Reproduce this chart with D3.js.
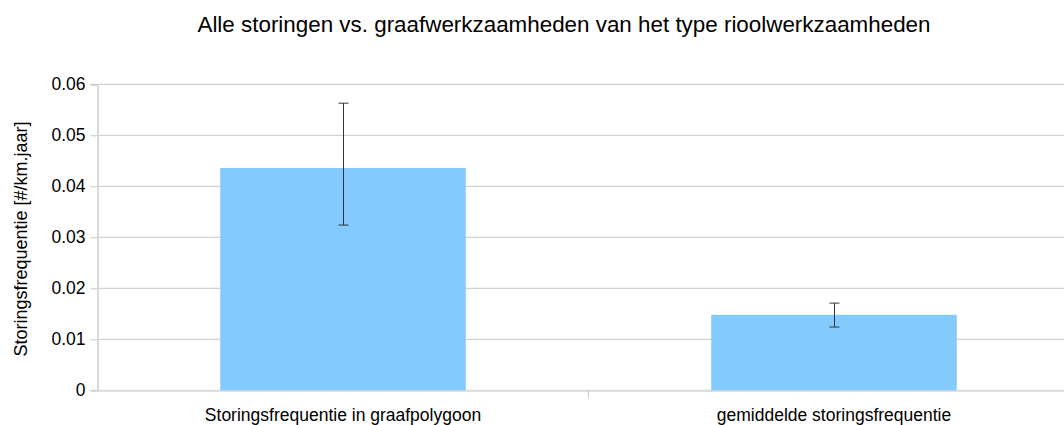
<!DOCTYPE html>
<html><head><meta charset="utf-8">
<script src="https://cdn.jsdelivr.net/npm/d3@7"></script>
<style>body{margin:0;background:#fff;overflow:hidden}svg{display:block}text{font-family:"Liberation Sans",Arial,sans-serif}</style>
</head><body>
<svg id="c" width="1064" height="425"></svg>
<script>
const categories = ["Storingsfrequentie in graafpolygoon", "gemiddelde storingsfrequentie"];
const values = [0.0436, 0.0148];
const errLow = [0.0324, 0.0124];
const errHigh = [0.0563, 0.0171];
const yTicks = [0, 0.01, 0.02, 0.03, 0.04, 0.05, 0.06];
const title = "Alle storingen vs. graafwerkzaamheden van het type rioolwerkzaamheden";
const yLabel = "Storingsfrequentie [#/km.jaar]";

(function () {
const svg = d3.select("#c");
const pL = 97.5, pR = 1079.5, pT = 84.3, pB = 390.3;
const x = d3.scaleBand().domain(categories).range([pL, pR]).paddingInner(0).paddingOuter(0);
const y = d3.scaleLinear().domain([0, 0.06]).range([pB, pT]);

// gridlines
svg.append("g").selectAll("line").data(yTicks.filter(d => d > 0)).join("line")
  .attr("x1", pL).attr("x2", 1064).attr("y1", d => y(d)).attr("y2", d => y(d))
  .attr("stroke", "#c8c8c8").attr("stroke-width", 1);

// y axis
const ya = svg.append("g").attr("transform", `translate(${pL},0)`)
  .call(d3.axisLeft(y).tickValues(yTicks).tickFormat(d => d === 0 ? "0" : d3.format(".2f")(d)).tickSize(7).tickPadding(5));
ya.select(".domain").attr("stroke", "#d9d9d9").attr("stroke-width", 2);
ya.selectAll(".tick line").attr("stroke", "#c8c8c8");
ya.selectAll(".tick text").attr("font-size", "17.5px").attr("fill", "#000").style("font-family", "Liberation Sans, Arial, sans-serif");

// x axis
const xa = svg.append("g").attr("transform", `translate(0,${pB})`)
  .call(d3.axisBottom(x).tickSize(0).tickPadding(0));
xa.select(".domain").attr("stroke", "#d9d9d9").attr("stroke-width", 2);
xa.selectAll(".tick text").attr("font-size", "17.5px").attr("fill", "#000").attr("dy", null).attr("y", 30.5)
  .style("font-family", "Liberation Sans, Arial, sans-serif");
// category separators
svg.append("g").selectAll("line").data(categories.slice(1)).join("line")
  .attr("x1", d => x(d)).attr("x2", d => x(d)).attr("y1", pB).attr("y2", pB + 8)
  .attr("stroke", "#c8c8c8");

// bars
svg.append("g").selectAll("rect").data(categories).join("rect")
  .attr("x", d => x(d) + x.bandwidth() * 0.25)
  .attr("width", x.bandwidth() * 0.5)
  .attr("y", (d, i) => y(values[i]))
  .attr("height", (d, i) => y(0) - y(values[i]))
  .attr("fill", "#83caff");

// error bars
const eb = svg.append("g").attr("stroke", "#333").attr("stroke-width", 1);
categories.forEach((c, i) => {
  const cx = Math.round(x(c) + x.bandwidth() / 2) + 0.5;
  eb.append("line").attr("x1", cx).attr("x2", cx).attr("y1", y(errHigh[i])).attr("y2", y(errLow[i]));
  eb.append("line").attr("x1", cx - 5).attr("x2", cx + 5).attr("y1", y(errHigh[i])).attr("y2", y(errHigh[i]));
  eb.append("line").attr("x1", cx - 5).attr("x2", cx + 5).attr("y1", y(errLow[i])).attr("y2", y(errLow[i]));
});

// title
svg.append("text").attr("x", 564).attr("y", 32).attr("text-anchor", "middle")
  .attr("font-size", "22.4px").attr("fill", "#000").text(title);

// y label
svg.append("text").attr("transform", `translate(27,239) rotate(-90)`).attr("text-anchor", "middle")
  .attr("font-size", "18px").attr("fill", "#000").text(yLabel);
})();
</script>
</body></html>
